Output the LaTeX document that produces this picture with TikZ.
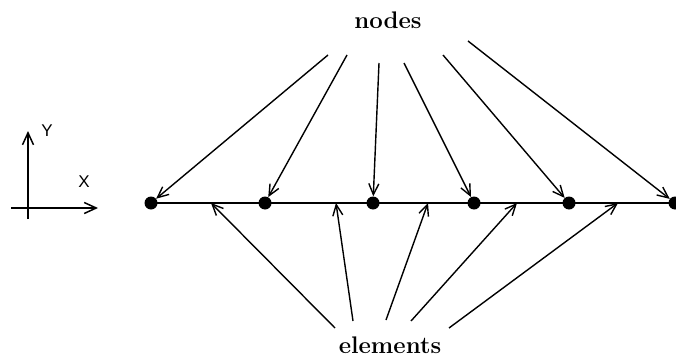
\documentclass[tikz,border=0pt]{standalone}
\usepackage{fontspec}
\newfontfamily\labelfont{Liberation Sans}
\usetikzlibrary{arrows.meta}
\begin{document}
\begin{tikzpicture}[x=1pt,y=-1pt,
  dot/.style={circle,fill=black,inner sep=0pt,minimum size=13pt},
  ptr/.style={line width=1.4pt,-{Straight Barb[length=11pt,width=10pt,line width=1.4pt]}},
  axis/.style={line width=1.5pt,-{Straight Barb[length=12pt,width=11pt,line width=1.5pt]}},
  title/.style={font=\bfseries\fontsize{24}{28}\selectfont},
  axlabel/.style={font=\labelfont\fontsize{17}{20}\selectfont}]
\useasboundingbox (0,0) rectangle (676,361);
% axes
\coordinate (xs) at (11,208);
\coordinate (xe) at (98,208);
\coordinate (ys) at (28,219);
\coordinate (ye) at (28,131);
\draw[axis] (xs) -- (xe);
\draw[axis] (ys) -- (ye);
\node[axlabel] (ylab) at (47,131) {Y};
\node[axlabel] (xlab) at (84,182) {X};
% dots
\node[dot] (n1) at (151,203) {};
\node[dot] (n2) at (265,203) {};
\node[dot] (n3) at (373,203) {};
\node[dot] (n4) at (474,203) {};
\node[dot] (n5) at (569,203) {};
\node[dot] (n6) at (675,203) {};
\coordinate (lend) at (676,203);
\draw[line width=2pt] (n1.center) -- (lend);
% labels
\node[title] (nodes) at (388,20) {nodes};
\node[title] (elements) at (390,345) {elements};
% node pointers
\coordinate (t1) at (328,55);
\coordinate (t2) at (347,55);
\coordinate (t3) at (379,63);
\coordinate (t4) at (404,63);
\coordinate (t5) at (443,55);
\coordinate (t6) at (468,41);
\draw[ptr] (t1) -- (n1);
\draw[ptr] (t2) -- (n2);
\draw[ptr] (t3) -- (n3);
\draw[ptr] (t4) -- (n4);
\draw[ptr] (t5) -- (n5);
\draw[ptr] (t6) -- (n6);
% element pointers
\coordinate (b1) at (335,328);
\coordinate (b2) at (353,321);
\coordinate (b3) at (386,320);
\coordinate (b4) at (411,321);
\coordinate (b5) at (449,328);
\coordinate (e1) at (211,203);
\coordinate (e2) at (336,203);
\coordinate (e3) at (428,203);
\coordinate (e4) at (517,203);
\coordinate (e5) at (618,203);
\draw[ptr] (b1) -- (e1);
\draw[ptr] (b2) -- (e2);
\draw[ptr] (b3) -- (e3);
\draw[ptr] (b4) -- (e4);
\draw[ptr] (b5) -- (e5);
\end{tikzpicture}
\end{document}
